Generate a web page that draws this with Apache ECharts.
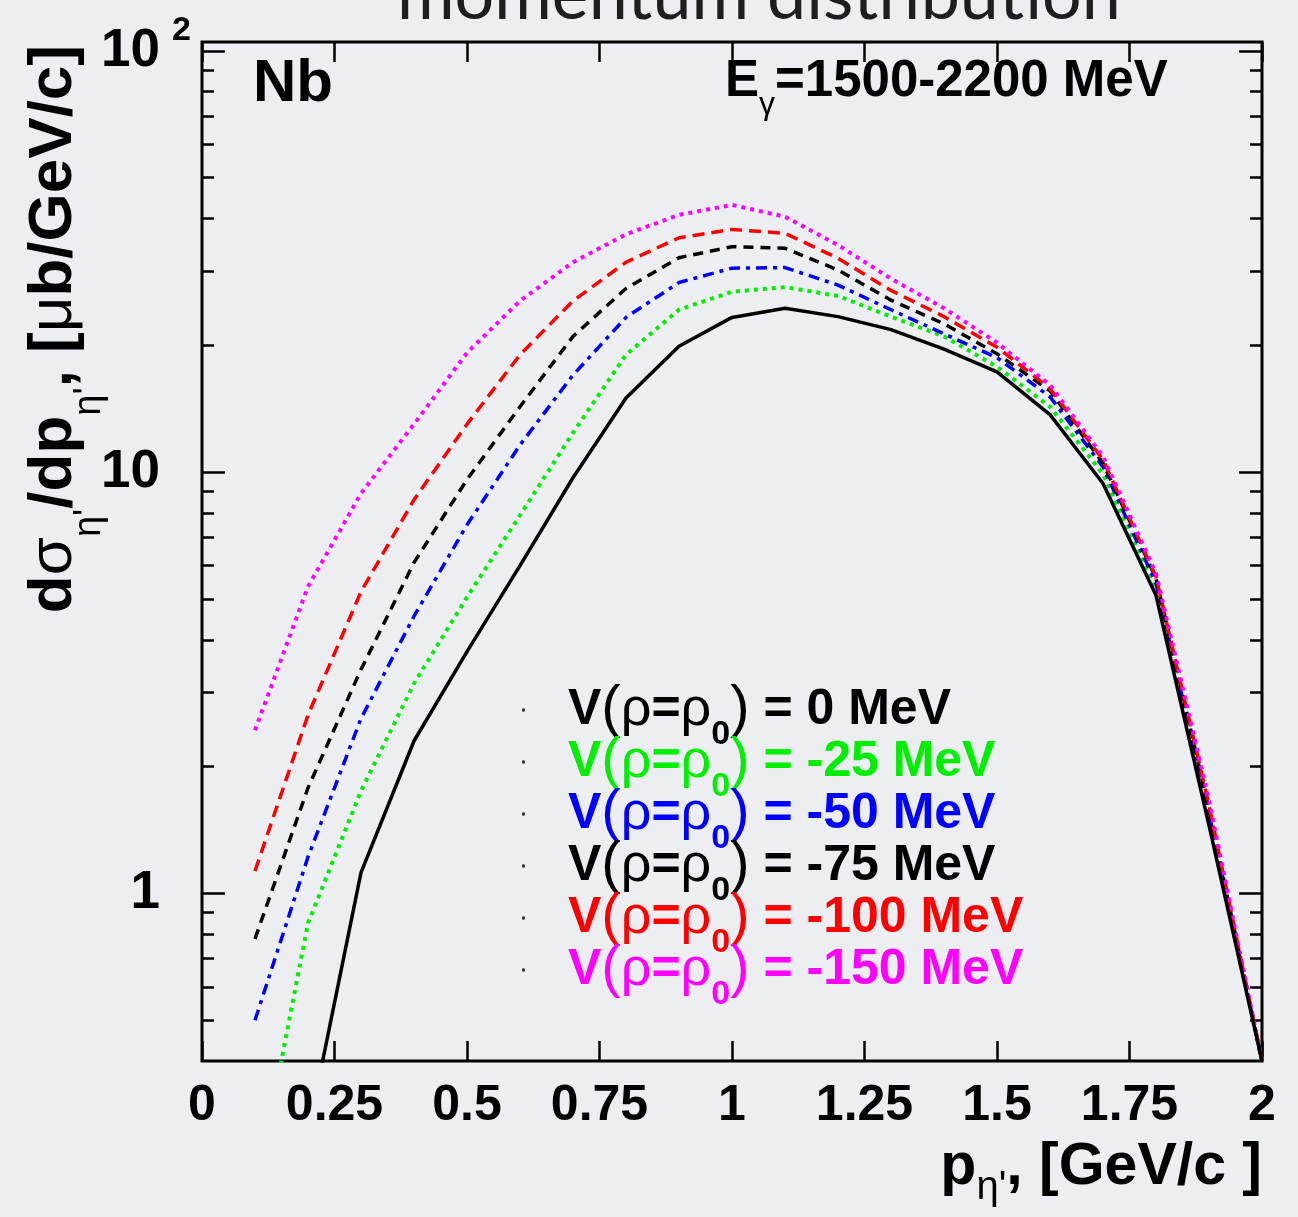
<!DOCTYPE html>
<html>
<head>
<meta charset="utf-8">
<script src="https://cdn.jsdelivr.net/npm/echarts@6.0.0/dist/echarts.min.js"></script>
<style>
html,body{margin:0;padding:0;background:#eceef1;}
#chart{width:1298px;height:1217px;}
</style>
</head>
<body>
<div id="chart"></div>
<script>
// ---------------- data ----------------
const momentum = [0.1,0.2,0.3,0.4,0.5,0.6,0.7,0.8,0.9,1.0,1.1,1.2,1.3,1.4,1.5,1.6,1.7,1.8,1.9,2.0];
const potentials = [0, -25, -50, -75, -100, -150];
const dsig_V0    = [null,0.27,1.12,2.3,3.75,6.0,9.7,15.0,19.9,23.3,24.5,23.4,21.8,19.6,17.3,13.7,9.4,5.1,1.45,0.4];
const dsig_V25   = [0.19,0.85,1.75,3.15,5.05,7.9,12.4,19.0,24.3,26.8,27.5,26.2,23.4,21.0,17.8,14.3,9.9,5.24,1.5,0.4];
const dsig_V50   = [0.50,1.22,2.6,4.55,7.5,11.6,17.0,23.3,28.2,30.5,30.6,27.8,24.3,21.3,18.7,15.1,10.3,5.44,1.55,0.4];
const dsig_V75   = [0.78,1.78,3.4,6.1,9.6,14.3,21.0,27.3,32.3,34.3,34.0,30.2,25.6,22.5,19.1,15.6,10.5,5.6,1.58,0.4];
const dsig_V100  = [1.13,2.65,5.2,8.6,13.0,19.0,25.5,31.5,36.0,37.7,36.9,32.2,27.0,23.4,19.8,15.8,10.7,5.64,1.62,0.4];
const dsig_V150  = [2.44,5.35,8.9,13.0,19.2,25.5,31.5,36.7,40.8,43.1,40.4,34.6,28.8,24.5,20.3,16.1,10.9,5.75,1.66,0.4];
const curves = [dsig_V0, dsig_V25, dsig_V50, dsig_V75, dsig_V100, dsig_V150];

const xTickValues = [0,0.25,0.5,0.75,1,1.25,1.5,1.75,2];
const xTickLabels = ['0','0.25','0.5','0.75','1','1.25','1.5','1.75','2'];
const yMajorValues = [1,10,100];
const yMajorLabels = ['1','10','10'];
const yMinorValues = [0.5,0.6,0.7,0.8,0.9,2,3,4,5,6,7,8,9,20,30,40,50,60,70,80,90];

// ---------------- styles ----------------
const FONT = '"Liberation Sans", Arial, Helvetica, sans-serif';
const lineStyles = [
  {color:'#000000', type:'solid', width:3.5},
  {color:'#00ee00', type:[4,5], width:4},
  {color:'#0000ff', type:[11,6,4,6], width:3.5},
  {color:'#000000', type:[10,7], width:3.5},
  {color:'#ff0000', type:[12,7], width:3.5},
  {color:'#ff00ff', type:[4,5], width:4}
];
const textColors = ['#000000','#00ee00','#0000ff','#000000','#ff0000','#ff00ff'];
const seriesNames = potentials.map(v => 'V(ρ=ρ0) = ' + v + ' MeV');

const XMIN = 0, XMAX = 2, YMIN = 0.4, YMAX = 105;
function findLabel(vals, labels, v){
  for (let i=0;i<vals.length;i++){ if (Math.abs(vals[i]-v) < 1e-6*Math.max(1,Math.abs(v))) return labels[i]; }
  return '';
}

const chart = echarts.init(document.getElementById('chart'), null, {renderer:'canvas'});

const tickLine = {color:'#000', width:2.5};
const option = {
  backgroundColor: '#eceef1',
  animation: false,
  title: {
    text: 'momentum distribution',
    left: 392, top: -44, padding: 5,
    textStyle: {fontFamily:'Lato', fontWeight:'normal', fontSize:70, color:'#1e1e1e'}
  },
  grid: {
    left: 202, right: 36, top: 42, bottom: 156,
    show: true, borderColor: '#000', borderWidth: 3, backgroundColor: 'transparent'
  },
  xAxis: [
    {
      type:'value', position:'bottom', min:XMIN, max:XMAX, interval:0.25,
      axisLine:{show:false}, splitLine:{show:false},
      axisTick:{show:true, inside:true, length:20, lineStyle:tickLine},
      axisLabel:{show:true, margin:20, fontFamily:FONT, fontWeight:'bold', fontSize:50, color:'#000',
        showMinLabel:true, showMaxLabel:true,
        formatter: v => findLabel(xTickValues, xTickLabels, v)}
    },
    {
      type:'value', position:'top', min:XMIN, max:XMAX, interval:0.25,
      axisLine:{show:false}, splitLine:{show:false},
      axisTick:{show:true, inside:true, length:20, lineStyle:tickLine},
      axisLabel:{show:false}
    }
  ],
  yAxis: [
    {
      type:'log', position:'left', min:YMIN, max:YMAX, logBase:10,
      axisLine:{show:false}, splitLine:{show:false},
      axisTick:{show:true, inside:true, length:23, lineStyle:tickLine, customValues:yMajorValues},
      axisLabel:{show:true, margin:42, fontFamily:FONT, fontWeight:'bold', fontSize:53, color:'#000',
        customValues:yMajorValues,
        formatter: v => findLabel(yMajorValues, yMajorLabels, v)}
    },
    {
      type:'log', position:'left', min:YMIN, max:YMAX, logBase:10,
      axisLine:{show:false}, splitLine:{show:false},
      axisTick:{show:true, inside:true, length:12, lineStyle:tickLine, customValues:yMinorValues},
      axisLabel:{show:false}
    },
    {
      type:'log', position:'right', min:YMIN, max:YMAX, logBase:10,
      axisLine:{show:false}, splitLine:{show:false},
      axisTick:{show:true, inside:true, length:23, lineStyle:tickLine, customValues:yMajorValues},
      axisLabel:{show:false}
    },
    {
      type:'log', position:'right', min:YMIN, max:YMAX, logBase:10,
      axisLine:{show:false}, splitLine:{show:false},
      axisTick:{show:true, inside:true, length:12, lineStyle:tickLine, customValues:yMinorValues},
      axisLabel:{show:false}
    }
  ],
  legend: {
    orient:'vertical', left:517, top:663, itemGap:-32,
    icon:'rect', itemWidth:3, itemHeight:3,
    itemStyle:{color:'#333'},
    selectedMode:false,
    textStyle:{
      fontFamily:FONT, fontWeight:'bold', fontSize:50, lineHeight:52,
      rich:{
        g:{width:38, lineHeight:52},
        b:{fontFamily:FONT, fontWeight:'bold', fontSize:50, lineHeight:52},
        p:{fontFamily:FONT, fontWeight:'normal', fontSize:58, lineHeight:52},
        r:{fontFamily:FONT, fontWeight:'normal', fontSize:54, lineHeight:52},
        s:{fontFamily:FONT, fontWeight:'bold', fontSize:34, lineHeight:52, padding:[50,0,0,0]}
      }
    },
    formatter: function(name){
      const i = seriesNames.indexOf(name);
      return '{g| }{b|V}{p|(}{r|ρ}{b|=}{r|ρ}{s|0}{p|)}{b| = ' + potentials[i] + ' MeV}';
    },
    data: seriesNames.map((n,i) => ({name:n, textStyle:{color:textColors[i]}}))
  },
  graphic: [
    { // exponent of the 10^2 label
      type:'text', left:172, top:14, silent:true,
      style:{text:'2', fontFamily:FONT, fontWeight:'bold', fontSize:34, fill:'#000'}
    },
    { // y axis title
      type:'text', x:54, y:45, rotation:Math.PI/2, silent:true,
      style:{
        text:"{b|d}{g|σ}{s|η'}{b|/dp}{s|η'}{b|, [}{g|μ}{b|b/GeV/c]}",
        align:'right', verticalAlign:'middle', fill:'#000',
        rich:{
          b:{fontFamily:FONT, fontWeight:'bold', fontSize:62, lineHeight:62},
          g:{fontFamily:FONT, fontWeight:'normal', fontSize:62, lineHeight:62},
          s:{fontFamily:FONT, fontWeight:'normal', fontSize:38, lineHeight:62, padding:[72,0,0,0]}
        }
      }
    },
    { // x axis title
      type:'text', x:1262, y:1168, silent:true,
      style:{
        text:"{b|p}{s|η'}{b|, [GeV/c ]}",
        align:'right', verticalAlign:'middle', fill:'#000',
        rich:{
          b:{fontFamily:FONT, fontWeight:'bold', fontSize:59, lineHeight:58},
          s:{fontFamily:FONT, fontWeight:'normal', fontSize:40, lineHeight:58, padding:[40,0,0,0]}
        }
      }
    },
    { // nucleus
      type:'text', x:253, y:84, silent:true,
      style:{text:'Nb', align:'left', verticalAlign:'middle', fontFamily:FONT, fontWeight:'bold', fontSize:60, fill:'#000'}
    },
    { // photon energy range
      type:'text', x:725, y:82, silent:true,
      style:{
        text:'{b|E}{s|γ}{b|=1500-2200 MeV}',
        align:'left', verticalAlign:'middle', fill:'#000',
        rich:{
          b:{fontFamily:FONT, fontWeight:'bold', fontSize:51, lineHeight:51},
          s:{fontFamily:FONT, fontWeight:'normal', fontSize:32, lineHeight:51, padding:[46,0,0,0]}
        }
      }
    }
  ],
  series: curves.map((vals, i) => ({
    name: seriesNames[i],
    type: 'line',
    xAxisIndex: 0, yAxisIndex: 0,
    data: momentum.map((p, k) => [p, vals[k]]).filter(d => d[1] != null),
    showSymbol: false, symbol: 'none', smooth: false, clip: true,
    color: lineStyles[i].color,
    lineStyle: {color: lineStyles[i].color, type: lineStyles[i].type, width: lineStyles[i].width, cap: 'butt'},
    z: 2 + (i === 0 ? 6 : i)
  }))
};
chart.setOption(option);
</script>
</body>
</html>
